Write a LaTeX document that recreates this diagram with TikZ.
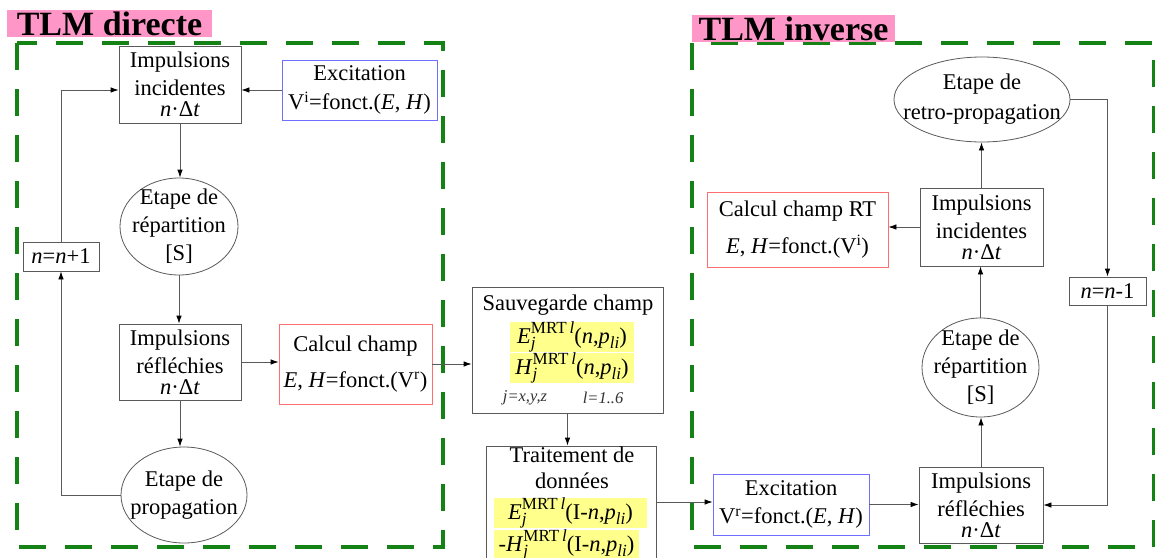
\documentclass[tikz,border=0pt]{standalone}
\usepackage{fontspec}
\setmainfont{Liberation Serif}
\usetikzlibrary{arrows.meta,shapes.geometric}
\definecolor{hl}{RGB}{255,255,140}
\definecolor{dgreen}{RGB}{20,130,20}
\definecolor{pinkt}{RGB}{255,150,200}
\definecolor{bbl}{RGB}{110,110,255}
\definecolor{rbr}{RGB}{255,110,110}
\definecolor{lin}{RGB}{90,90,90}
\newcommand\smf{\fontsize{17}{17}\selectfont}
\newcommand\supsb[2]{\rlap{\raisebox{-0.5ex}{\smf\itshape #2}}\raisebox{0.95ex}{\smf #1}}
\newcommand\ndt{\textit{n}·Δ\textit{t}}
\newcommand\pli{\textit{p}\raisebox{-0.5ex}{\smf\itshape li}}
\begin{document}
\begin{tikzpicture}[x=1pt,y=-1pt,
 every node/.style={font=\fontsize{22.5}{28}\selectfont, inner sep=0pt},
 box/.style={draw=lin, line width=0.8pt, align=center},
 bbox/.style={draw=bbl, line width=0.8pt, align=center},
 rbox/.style={draw=rbr, line width=0.8pt, align=center},
 ell/.style={draw=lin, line width=0.8pt, ellipse},
 arr/.style={draw=lin, line width=0.8pt, -{Latex[length=8pt,width=5.5pt,color=black]}},
 frame/.style={draw=dgreen, line width=4pt, dash pattern=on 27pt off 19pt},
 ttl/.style={fill=pinkt, font=\fontsize{34}{34}\selectfont\bfseries},
 form/.style={fill=hl},
 small/.style={font=\fontsize{16.5}{16.5}\selectfont\itshape, text=black!80}
]
\clip (0,0) rectangle (1155,557);
\fill[white] (0,0) rectangle (1155,557);
% frames
\draw[frame] (17,43) rectangle (443,547);
\draw[frame] (692,43) rectangle (1154,547);
% titles
\node[ttl, minimum width=205, minimum height=27] (t1) at (109.5,23.5) {TLM directe};
\node[ttl, minimum width=203, minimum height=27] (t2) at (793.5,28.5) {TLM inverse};

% left part
\node[box, minimum width=122, minimum height=77] (iiL) at (180,84.5) {Impulsions\\incidentes\\[-7pt]\ndt};
\node[bbox, minimum width=155, minimum height=60] (excL) at (359.5,90) {Excitation\\[1pt]V\textsuperscript{i}=fonct.(\textit{E}, \textit{H})};
\node[ell, minimum width=118, minimum height=97] (repL) at (179,226.5) {};
\node[align=center] (repLt) at (repL) {Etape de\\répartition\\{[S]}};
\node[box, minimum width=76, minimum height=29] (nn1) at (61,256.5) {\textit{n}=\textit{n}+1};
\node[box, minimum width=122, minimum height=76] (irL) at (180,362) {Impulsions\\réfléchies\\[-7pt]\ndt};
\node[rbox, minimum width=153, minimum height=80] (ccL) at (355.5,364) {Calcul champ\\[8pt]\textit{E}, \textit{H}=fonct.(V\textsuperscript{r})};
\node[ell, minimum width=126, minimum height=96] (propL) at (184,495) {};
\node[align=center] (propLt) at (propL) {Etape de\\propagation};

% centre
\node[box, minimum width=191, minimum height=126] (sav) at (567.5,350) {};
\node[anchor=base] (savt) at (568,310) {Sauvegarde champ};
\node[form, minimum width=124, minimum height=28] (f1) at (572,337) {\textit{E}\supsb{MRT\,\textit{l}}{j}(\textit{n},\pli)};
\node[form, minimum width=124, minimum height=28] (f2) at (572,368) {\textit{H}\supsb{MRT\,\textit{l}}{j}(\textit{n},\pli)};
\node[small] (lj) at (525,398) {j=x,y,z};
\node[small] (ll) at (603,398) {l=1..6};
\node[box, minimum width=170, minimum height=112] (trt) at (571,502) {};
\node[anchor=base] (trt1) at (572,462) {Traitement de};
\node[anchor=base] (trt2) at (572,488) {données};
\node[form, minimum width=153, minimum height=28] (f3) at (570.5,513) {\textit{E}\supsb{MRT\,\textit{l}}{j}(I-\textit{n},\pli)};
\node[form, minimum width=145, minimum height=30] (f4) at (566.5,545) {-\textit{H}\supsb{MRT\,\textit{l}}{j}(I-\textit{n},\pli)};

% right part
\node[bbox, minimum width=156, minimum height=61] (excR) at (791,504.5) {Excitation\\[0pt]V\textsuperscript{r}=fonct.(\textit{E}, \textit{H})};
\node[box, minimum width=124, minimum height=76] (irR) at (981,505) {Impulsions\\réfléchies\\[-7pt]\ndt};
\node[ell, minimum width=117, minimum height=99] (repR) at (980.5,367.5) {};
\node[align=center] (repRt) at (repR) {Etape de\\répartition\\{[S]}};
\node[box, minimum width=123, minimum height=78] (iiR) at (981.5,227) {Impulsions\\incidentes\\[-7pt]\ndt};
\node[rbox, minimum width=181, minimum height=75] (ccR) at (797.5,229.5) {Calcul champ RT\\[9pt]\textit{E}, \textit{H}=fonct.(V\textsuperscript{i})};
\node[ell, minimum width=176, minimum height=85] (retro) at (982,99.5) {};
\node[align=center, font=\fontsize{22.5}{30}\selectfont] (retrot) at (retro) {Etape de\\retro-propagation};
\node[box, minimum width=77, minimum height=28] (nmn1) at (1107.5,291) {\textit{n}=\textit{n}-1};

% connectors left
\draw[arr] (excL.west) -- (excL.west -| iiL.east);
\draw[arr] (iiL.south) -- (iiL.south |- repL.north);
\draw[arr] (repL.south) -- (repL.south |- irL.north);
\draw[arr] (irL.east) -- (irL.east -| ccL.west);
\draw[arr] (irL.south) -- (irL.south |- propL.north);
\draw[arr] (propL.west) -| (nn1.south);
\draw[arr] (nn1.north) |- (excL.west -| iiL.west);
% centre
\draw[arr] (ccL.east) -- (ccL.east -| sav.west);
\draw[arr] (sav.south) -- (sav.south |- trt.north);
\draw[arr] (trt.east) -- (trt.east -| excR.west);
% right
\draw[arr] (excR.east) -- (excR.east -| irR.west);
\draw[arr] (irR.north) -- (irR.north |- repR.south);
\draw[arr] (repR.north) -- (repR.north |- iiR.south);
\draw[arr] (iiR.north) -- (iiR.north |- retro.south);
\draw[arr] (iiR.west) -- (iiR.west -| ccR.east);
\draw[arr] (retro.east) -| (nmn1.north);
\draw[arr] (nmn1.south) |- (irR.east);
\end{tikzpicture}
\end{document}
